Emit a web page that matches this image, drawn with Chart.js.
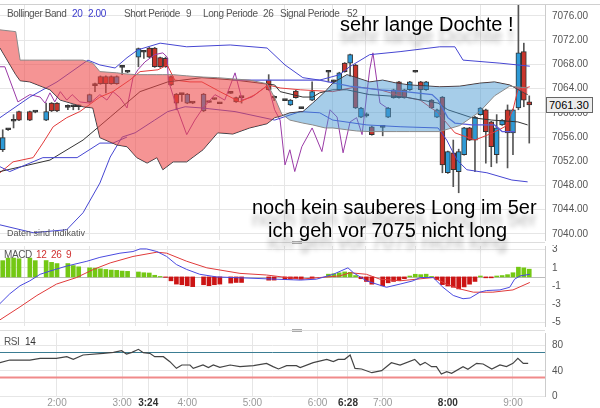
<!DOCTYPE html>
<html>
<head>
<meta charset="utf-8">
<script src="https://cdn.jsdelivr.net/npm/chart.js@4/dist/chart.umd.min.js"></script>
<style>
body { margin: 0; background: #fff; font-family: Arial, "Liberation Sans", sans-serif; }
#wrap { position: relative; width: 600px; height: 408px; overflow: hidden; background: #fff; }
canvas { position: absolute; left: 0; }
.t { position: absolute; white-space: nowrap; font-size: 10px; letter-spacing: -0.4px; line-height: 12px; color: #555; }
.big { position: absolute; white-space: nowrap; font-size: 20px; line-height: 20px; color: #000;
       text-shadow: 0 12px 5px rgba(0,0,0,0.3); }
.handle { position: absolute; left: 292px; width: 10px; height: 1px; background: #aaa; }
</style>
</head>
<body>
<div id="wrap">
  <canvas id="main" width="600" height="242" style="top:0"></canvas>
  <canvas id="macd" width="600" height="85" style="top:245px"></canvas>
  <canvas id="rsi" width="600" height="77" style="top:331px"></canvas>

  <div style="position:absolute;left:0;top:4px;width:600px;height:1px;background:#d0d0d0"></div>
  <div style="position:absolute;left:0;top:242px;width:545px;height:1px;background:#ddd"></div>
  <div style="position:absolute;left:0;top:330px;width:545px;height:1px;background:#ddd"></div>
  <div class="handle" style="top:241px"></div><div class="handle" style="top:243px"></div>
  <div class="handle" style="top:329px"></div><div class="handle" style="top:331px"></div>

  <div class="t" style="left:7px;top:8px">Bollinger Band</div>
  <div class="t" style="left:72px;top:8px;color:#3a3acc">20</div>
  <div class="t" style="left:88px;top:8px;color:#3a3acc">2.00</div>
  <div class="t" style="left:124px;top:8px">Short Periode</div>
  <div class="t" style="left:186px;top:8px">9</div>
  <div class="t" style="left:203px;top:8px">Long Periode</div>
  <div class="t" style="left:263px;top:8px">26</div>
  <div class="t" style="left:280px;top:8px">Signal Periode</div>
  <div class="t" style="left:347px;top:8px">52</div>

  <div class="big" style="left:340px;top:14px">sehr lange Dochte !</div>
  <div class="big" style="left:252px;top:197px">noch kein sauberes Long im 5er</div>
  <div class="big" style="left:268px;top:220px">ich geh vor 7075 nicht long</div>
  <div class="t" style="left:7px;top:227px;font-size:9px;letter-spacing:0;color:#555">Daten sind indikativ</div>

  <div style="position:absolute;left:546px;top:97px;width:43px;height:14px;border:1px solid #666;background:#eee;font-size:11px;line-height:14px;padding-left:2px">7061.30</div>

  <div class="t" style="left:4px;top:249px">MACD</div>
  <div class="t" style="left:36px;top:249px;color:#d03030">12</div>
  <div class="t" style="left:51px;top:249px;color:#d03030">26</div>
  <div class="t" style="left:66px;top:249px;color:#d03030">9</div>
  <div class="t" style="left:4px;top:336px">RSI</div>
  <div class="t" style="left:25px;top:336px;color:#333">14</div>
</div>

<script>
// x axis: 5-minute bar index, 0 = 1:10
const timeTickIdx = [10, 22, 26.8, 34, 46, 58, 63.6, 70, 82, 94];
const timeTickLabels = ["2:00", "3:00", "3:24", "4:00", "5:00", "6:00", "6:28", "7:00", "8:00", "9:00"];
const timeTickBold = [false, false, true, false, false, false, true, false, true, false];

const priceTicks = [7040, 7044, 7048, 7052, 7056, 7060, 7064, 7068, 7072, 7076];
const macdTicks = [3, 1, -1, -3, -5];
const rsiTicks = [0, 40, 80];
const rsiLevels = [70, 30];

// candles
const candleIdx = [0,1,2,3,5,6,8,9,10,12,13,14,16,17,18,19,20,21,22,23,25,26,27,28,29,30,31,32,33,34,35,37,38,39,40,42,43,44,49,50,52,53,54,55,57,60,61,62,63,64,65,66,67,68,70,71,72,73,74,75,76,77,78,79,80,81,82,83,84,85,86,87,88,89,90,91,92,93,94,95,96,97];
const candleOpen = [7053.9,7057.2,7058.6,7060.2,7060.2,7060.2,7058.8,7061.6,7061.6,7061.0,7061.0,7061.1,7061.8,7064.6,7066.0,7066.0,7066.0,7064.8,7067.5,7066.8,7069.2,7070.0,7070.7,7070.7,7069.1,7069.0,7066.0,7063.1,7063.1,7061.6,7061.6,7060.3,7061.8,7062.3,7061.6,7063.3,7062.5,7062.6,7065.4,7062.5,7062.1,7061.3,7063.6,7060.8,7062.1,7066.8,7065.1,7063.8,7068.2,7068.2,7067.9,7059.3,7059.5,7057.7,7057.7,7059.3,7063.8,7065.1,7063.8,7063.8,7066.8,7065.1,7063.8,7062.1,7059.3,7062.6,7050.1,7053.4,7050.3,7053.1,7057.5,7055.5,7059.7,7060.5,7058.5,7053.1,7058.0,7060.5,7056.7,7060.8,7070.1,7061.8];
const candleHigh = [7057.2,7057.4,7059.7,7060.3,7060.3,7060.3,7061.6,7061.7,7061.7,7061.3,7061.3,7061.3,7063.1,7064.9,7066.1,7066.1,7066.1,7066.1,7067.7,7066.9,7070.7,7070.3,7070.8,7070.8,7069.2,7069.2,7066.1,7063.2,7063.2,7063.2,7061.8,7063.2,7061.9,7062.4,7061.7,7063.4,7062.6,7062.7,7066.3,7062.8,7062.2,7062.2,7063.7,7060.9,7065.1,7066.9,7065.4,7066.7,7068.3,7069.7,7068.0,7060.9,7060.0,7057.8,7057.8,7060.9,7063.9,7065.2,7063.9,7065.2,7066.9,7065.2,7065.2,7062.2,7060.6,7062.7,7053.7,7055.5,7054.0,7057.6,7057.6,7059.4,7060.9,7060.6,7058.6,7059.7,7058.9,7061.3,7060.6,7077.8,7071.5,7062.8];
const candleLow = [7053.6,7057.1,7057.5,7058.7,7058.7,7060.0,7058.7,7060.2,7060.2,7060.5,7060.5,7060.5,7061.7,7063.5,7064.7,7063.3,7064.7,7064.7,7066.3,7066.6,7067.6,7069.0,7069.1,7067.5,7067.5,7067.5,7064.5,7060.5,7061.9,7061.5,7061.5,7060.2,7061.7,7062.2,7061.5,7063.2,7061.7,7061.6,7063.7,7062.0,7062.0,7061.2,7062.4,7060.7,7062.0,7065.1,7064.8,7063.7,7066.7,7066.0,7060.7,7059.2,7059.3,7056.3,7056.2,7059.2,7062.4,7062.4,7062.4,7063.7,7066.7,7062.1,7063.7,7060.7,7059.2,7050.1,7050.0,7047.8,7046.8,7053.0,7055.4,7050.3,7059.6,7051.7,7051.1,7051.7,7057.9,7050.9,7053.1,7060.5,7061.0,7055.0];
const candleClose = [7055.9,7057.3,7058.7,7058.8,7058.8,7060.1,7060.2,7060.3,7060.3,7060.9,7061.1,7061.0,7063.0,7064.5,7064.8,7064.8,7064.8,7066.0,7067.6,7066.7,7070.6,7070.1,7069.2,7067.6,7067.6,7067.6,7064.6,7061.6,7063.0,7063.1,7061.7,7063.1,7061.7,7062.2,7061.5,7063.2,7061.8,7062.5,7063.8,7062.4,7062.0,7062.1,7062.5,7060.7,7063.5,7066.7,7065.2,7066.6,7066.8,7069.6,7060.8,7060.8,7059.6,7056.4,7057.6,7060.8,7062.5,7062.5,7062.5,7065.1,7066.7,7063.8,7065.1,7060.8,7060.5,7051.4,7053.6,7050.6,7053.6,7057.5,7055.5,7059.3,7060.8,7056.9,7054.4,7057.5,7058.8,7056.7,7060.5,7069.9,7062.1,7061.3];

// ichimoku cloud borders
const cloudIdx = [-0.5,2.4,3.2,5,8.7,10.6,14.8,16.6,17.9,21,22.9,24.7,26.6,28.4,29.5,31.4,33.9,36.9,39.6,42.4,45.5,48.7,50.1,51.4,52.9,55.3,57.1,59.4,60.8,63.4,65.2,67.6,70,72.6,75,80.5,84.2,87.9,90.6,93.4,96.7];
const spanA = [7073.7,7073.4,7068.7,7068.7,7068.7,7068.7,7068.7,7068.2,7066.8,7066.6,7066.4,7066.3,7066.3,7066.3,7066.3,7066.3,7066.1,7065.9,7065.8,7065.6,7065.4,7064.8,7062.5,7059.8,7058.8,7058.3,7058.0,7057.5,7057.5,7057.2,7057.0,7056.9,7056.9,7056.9,7056.9,7056.9,7057.9,7060.2,7062.8,7064.4,7064.1];
const spanB = [7070.7,7066.3,7065.3,7065.1,7063.8,7062.1,7061.0,7060.8,7055.9,7054.7,7054.4,7052.6,7051.7,7052.6,7050.6,7051.9,7051.9,7053.9,7056.7,7056.5,7057.5,7058.2,7059.2,7059.5,7060.0,7060.2,7061.6,7063.5,7064.9,7066.3,7065.8,7065.1,7065.4,7064.9,7064.6,7064.3,7064.4,7064.9,7065.1,7064.6,7063.0];

const tenkanIdx = [-0.5,1.9,5.6,7.4,9.3,11.8,14.2,17.9,20.3,23.4,25.3,28.6,30.3,31.7,34.5,36.7,40,43.7,46.5,48.9,51.1,54.8,60.8,65.2,69.5,74.1,76.9,80.2,83.3,87,90.3,92.5,94,94.9,97.1];
const tenkan = [7050.1,7051.9,7052.6,7055.0,7057.7,7059.2,7060.2,7062.6,7063.5,7065.4,7066.8,7067.1,7067.9,7065.4,7065.1,7065.1,7063.5,7061.8,7063.0,7064.6,7064.1,7063.8,7063.5,7064.3,7063.8,7062.6,7062.1,7060.0,7056.7,7055.5,7056.7,7057.7,7060.5,7063.8,7064.3];

const kijunIdx = [-0.5,8.7,14.8,19.8,25.3,30.4,36.7,42.8,50.1,51.1,55.3,57.1,58.4,60.8,63.4,67.6,74.1,80.2,82,86.4,90.1,94.9,96.7];
const kijun = [7050.3,7052.2,7055.5,7059.3,7063.5,7065.1,7065.8,7065.4,7064.6,7063.5,7062.6,7062.6,7063.3,7063.8,7063.8,7063.0,7062.6,7061.6,7060.5,7059.2,7058.8,7058.5,7058.0];

const chikouIdx = [-0.5,0.4,2.8,5,6.9,7.8,8.7,9.6,10.6,11.8,12.8,14.2,16.1,17.9,19.2,20.3,21.6,22.9,24,24.9,26.2,28,29.5,30.3,30.5,32.1,33.9,35.4,36.9,39.1,40.9,42.8,44.1,45.9,48.9,50.1,51.1,52,52.9,53.8,55.1,57,58.8,60.3,61.6,62.7,64,65.2,66.2,67.6,68.2,69.5,70.8];
const chikou = [7067.6,7067.6,7061.8,7063.0,7062.6,7061.6,7063.3,7061.8,7063.5,7062.1,7063.0,7061.8,7061.6,7063.0,7062.1,7063.5,7062.5,7060.8,7065.8,7067.1,7068.4,7069.6,7069.9,7069.2,7065.4,7060.8,7056.4,7058.8,7060.8,7063.0,7062.1,7066.6,7062.1,7062.6,7064.6,7060.5,7058.8,7051.4,7053.9,7050.3,7054.4,7057.5,7053.6,7060.5,7059.3,7053.4,7058.5,7059.2,7056.4,7067.1,7069.9,7061.6,7060.8];

// bollinger
const bbUpperIdx = [-0.5,5,10,15.7,17.9,20.7,22.9,24.9,29,33.9,41.9,48.7,52,55.3,58.4,62.1,63.9,67.6,73.2,80.5,83.3,84.8,91.6,97.1];
const bbUpper = [7059.2,7062.6,7065.1,7068.7,7067.9,7067.4,7069.1,7070.4,7071.5,7070.9,7071.2,7070.7,7067.9,7065.8,7065.4,7066.3,7067.6,7069.6,7070.1,7070.9,7070.9,7068.7,7068.2,7067.7];
const bbLowerIdx = [-0.5,5.6,11.8,14.8,17.9,19.8,22,24.4,28,30.4,33.6,36.7,42.8,50.1,54.8,58.4,60.8,67.1,73.2,80.2,81.8,83.7,85.5,89.2,93.8,96.7];
const bbLower = [7041.5,7040.2,7040.7,7043.5,7048.4,7052.7,7056.0,7056.7,7058.8,7060.2,7061.0,7060.8,7060.2,7058.8,7060.2,7060.0,7058.8,7058.0,7057.7,7057.5,7055.5,7052.2,7050.6,7050.1,7048.9,7048.6];
const bbMidLeftIdx = [-0.5,1.3,7.4,13.7,17.9,20.3,22.9];
const bbMidLeft = [7051.1,7050.3,7052.6,7052.6,7055.0,7055.0,7056.0];
const bbMidRightIdx = [42.4,58.4,63.9,69.5,74.1,79.1,80.2,82,83.3,86.4,90.6,92,94.3];
const bbMidRight = [7065.4,7065.4,7064.4,7063.8,7063.5,7063.0,7062.1,7059.2,7058.3,7058.0,7058.0,7056.9,7056.9];

// MACD, histogram uses candleIdx
const macdHist = [1.79,2.07,2.07,2.0,2.07,1.79,1.8,1.6,1.47,1.47,1.25,1.11,1.0,0.97,0.89,0.82,0.75,0.72,0.64,0.61,0.54,0.46,0.43,0.18,0.05,-0.05,-0.43,-0.79,-0.86,-0.97,-1.07,-0.86,-0.97,-0.86,-0.79,-0.68,-0.61,-0.61,-0.36,-0.35,-0.3,-0.25,-0.2,-0.25,-0.15,0.3,0.35,0.45,0.55,0.5,0.15,-0.2,-0.5,-0.8,-0.97,-0.65,-0.5,-0.4,-0.2,0.1,0.29,0.25,0.3,0.05,-0.3,-0.85,-1.0,-1.14,-1.32,-1.1,-0.8,-0.5,0.1,-0.1,-0.1,0.1,0.15,0.25,0.46,1.07,1.0,0.85];
const macdIdx = [-0.5,1.3,3.2,5,6.9,8.7,11.7,15.5,17.9,21.6,24,25.3,26.5,28.4,30.2,32,33.9,36.3,39.4,42.4,54.8,57.8,60.9,63.6,64.6,67,69.8,70.7,73.2,75.6,76.9,79.3,81.1,83,84.8,86.1,87.9,89.1,91.6,93.4,94.3,95.3,97.1];
const macdLine = [-2.93,-1.86,-0.97,-0.43,0.29,0.64,1.18,1.72,2.15,2.61,2.79,3.08,3.08,2.79,2.25,1.36,0.82,0.29,0,-0.07,-0.35,-0.25,0.29,1.0,0.46,-0.43,-0.97,-1.14,-0.79,-0.43,-0.07,-0.07,-1.14,-2.04,-2.4,-2.32,-1.68,-1.5,-1.43,-1.14,-0.25,0.11,0.29];
const signalIdx = [-0.5,3.2,6.3,9.9,13.6,16.7,19.8,24,28.4,30.2,33.9,37.6,43.7,48.6,54.8,58.4,62.1,64,67,69.5,73.2,79.3,81.8,84.2,86.7,90.3,94,97.1];
const signalLine = [-4.72,-3.29,-2.04,-0.79,-0.07,0.82,1.54,2.25,2.72,2.61,1.72,1.0,0.39,0.21,-0.25,-0.07,0.11,0.46,0.29,-0.25,-0.43,-0.07,-0.79,-1.32,-1.68,-1.68,-1.43,-0.61];

// RSI
const rsiIdx = [-0.5,1.3,5,6.9,9.9,11.8,13,14.8,18.5,20.4,21.9,22.8,23.8,25,25.9,27.1,28,29.6,30.8,32,33,34.5,35.1,36.9,37.9,38.8,40,41.9,43.7,46.2,48.6,49.8,50.8,52.3,54.1,54.8,57.2,59.7,60.9,61.8,63,64,64.9,66.1,68,69.8,71.6,73.2,75.9,76.9,77.8,79,79.9,80.8,81.8,82.7,84.8,85.7,87.3,88.5,90.1,91.6,92.8,94,94.9,95.9,96.8];
const rsiLine = [52.9,57.1,57.1,59.8,59.8,62.4,58.2,65.1,67.7,69.3,71.9,66.7,69.3,74.1,68.8,67.7,62.4,62.4,54.5,43.9,49.2,49.2,43.9,49.2,45,49.2,45.5,49.2,46.6,48.1,51.8,46.6,42.9,48.1,48.1,45,52.9,58.2,54.5,58.2,58.2,65.1,43.9,42.9,37,40.2,52.9,49.2,58.2,49.2,53.4,46.6,46.6,34.9,38.6,36,46.6,42.3,51.8,50.8,42.9,49.2,46.6,51.8,59.8,51.8,51.8];

const FONT = "Arial, 'Liberation Sans', sans-serif";
const GRID = "#e6e6e6";

function zip(xs, ys) {
    return xs.map((x, k) => ({ x: x, y: ys[k] }));
}

function lineSet(xs, ys, color, width) {
    return {
        type: "line",
        data: zip(xs, ys),
        borderColor: color,
        borderWidth: width || 1,
        pointRadius: 0,
        tension: 0,
        fill: false,
        order: 1
    };
}

function noPad(s) {
    s.paddingTop = 0;
    s.paddingBottom = 0;
    s.paddingLeft = 0;
    s.paddingRight = 0;
}

function xScale(showLabels) {
    return {
        type: "linear",
        min: -0.5,
        max: 99.9,
        offset: false,
        afterBuildTicks: s => { s.ticks = timeTickIdx.map(v => ({ value: v })); },
        afterFit: s => { s.height = showLabels ? 12 : 0; noPad(s); },
        grid: { color: GRID, drawTicks: false },
        border: { display: false },
        ticks: {
            display: showLabels,
            padding: 1,
            maxRotation: 0,
            autoSkip: false,
            callback: (v, i) => timeTickLabels[i],
            color: ctx => timeTickBold[ctx.index] ? "#333" : "#999",
            font: ctx => ({ family: FONT, size: 10, weight: timeTickBold[ctx.index] ? "bold" : "normal" })
        }
    };
}

function yScale(min, max, ticks, fmt) {
    return {
        position: "right",
        min: min,
        max: max,
        afterBuildTicks: s => { s.ticks = ticks.map(v => ({ value: v })); },
        afterFit: s => { s.width = 55; noPad(s); },
        grid: { color: GRID, drawTicks: false },
        border: { color: "#ccc" },
        ticks: { padding: 7, color: "#555", font: { family: FONT, size: 10 }, callback: fmt }
    };
}

const levelLines = {
    id: "levelLines",
    beforeDatasetsDraw(chart, args, opts) {
        if (!opts.values) return;
        const { ctx, chartArea, scales } = chart;
        opts.values.forEach((v, k) => {
            const y = Math.round(scales.y.getPixelForValue(v)) + 0.5;
            ctx.save();
            ctx.strokeStyle = opts.colors[k];
            ctx.lineWidth = opts.widths[k];
            ctx.beginPath();
            ctx.moveTo(chartArea.left, y);
            ctx.lineTo(chartArea.right, y);
            ctx.stroke();
            ctx.restore();
        });
    }
};

const common = {
    responsive: false,
    animation: false,
    plugins: { legend: { display: false }, tooltip: { enabled: false } }
};

function renderMain() {
    const bodyColors = candleIdx.map((x, k) => {
        const d = candleClose[k] - candleOpen[k];
        if (Math.abs(d) < 0.25) return "#333";
        return d > 0 ? "#2e9ad6" : "#c8352c";
    });

    new Chart(document.getElementById("main"), {
        type: "bar",
        data: {
            datasets: [
                {
                    type: "line",
                    data: zip(cloudIdx, spanA),
                    borderColor: "#8a8a8a",
                    borderWidth: 1,
                    pointRadius: 0,
                    fill: { target: "+1", above: "rgba(238,70,70,0.58)", below: "rgba(70,150,210,0.48)" },
                    order: 0
                },
                {
                    type: "line",
                    data: zip(cloudIdx, spanB),
                    borderColor: "#333",
                    borderWidth: 1,
                    pointRadius: 0,
                    fill: false,
                    order: 0
                },
                lineSet(bbUpperIdx, bbUpper, "#4646d2"),
                lineSet(bbLowerIdx, bbLower, "#4646d2"),
                lineSet(bbMidLeftIdx, bbMidLeft, "#4646d2"),
                lineSet(bbMidRightIdx, bbMidRight, "#5a5ad8", 1.3),
                lineSet(kijunIdx, kijun, "#333"),
                lineSet(tenkanIdx, tenkan, "#e23a3a"),
                lineSet(chikouIdx, chikou, "#9a3aa6"),
                {
                    data: candleIdx.map((x, k) => ({ x: x, y: [candleOpen[k], candleClose[k]] })),
                    backgroundColor: bodyColors,
                    borderColor: "#333",
                    borderWidth: 1,
                    borderSkipped: false,
                    barThickness: 5,
                    minBarLength: 2,
                    grouped: false,
                    order: 2
                },
                {
                    data: candleIdx.map((x, k) => ({ x: x, y: [candleLow[k], candleHigh[k]] })),
                    backgroundColor: "#555",
                    barThickness: 1,
                    grouped: false,
                    order: 3
                }
            ]
        },
        options: {
            ...common,
            layout: { padding: { top: 5, bottom: 2, left: 0, right: 0 } },
            scales: {
                x: xScale(false),
                y: yScale(7039.0, 7077.8, priceTicks, v => v.toFixed(2))
            }
        }
    });
}

function renderMacd() {
    new Chart(document.getElementById("macd"), {
        type: "bar",
        data: {
            datasets: [
                lineSet(macdIdx, macdLine, "#4a4ae0"),
                lineSet(signalIdx, signalLine, "#e03a3a"),
                {
                    data: zip(candleIdx, macdHist),
                    backgroundColor: macdHist.map(v => v >= 0 ? "#74c814" : "#cc1414"),
                    barThickness: 4,
                    grouped: false,
                    order: 2
                }
            ]
        },
        options: {
            ...common,
            layout: { padding: { top: 1, bottom: 4, left: 0, right: 0 } },
            plugins: {
                ...common.plugins,
                levelLines: { values: [0], colors: ["#bbb"], widths: [1] }
            },
            scales: {
                x: xScale(false),
                y: yScale(-5.4, 3.4, macdTicks, v => String(v))
            }
        },
        plugins: [levelLines]
    });
}

function renderRsi() {
    new Chart(document.getElementById("rsi"), {
        type: "line",
        data: {
            datasets: [lineSet(rsiIdx, rsiLine, "#444", 1.2)]
        },
        options: {
            ...common,
            layout: { padding: { top: 2, bottom: 0, left: 0, right: 0 } },
            plugins: {
                ...common.plugins,
                levelLines: { values: rsiLevels, colors: ["#3b7d93", "#f08a8a"], widths: [1, 2] }
            },
            scales: {
                x: xScale(true),
                y: yScale(0, 100, rsiTicks, v => String(v))
            }
        },
        plugins: [levelLines]
    });
}

renderMain();
renderMacd();
renderRsi();
</script>
</body>
</html>
